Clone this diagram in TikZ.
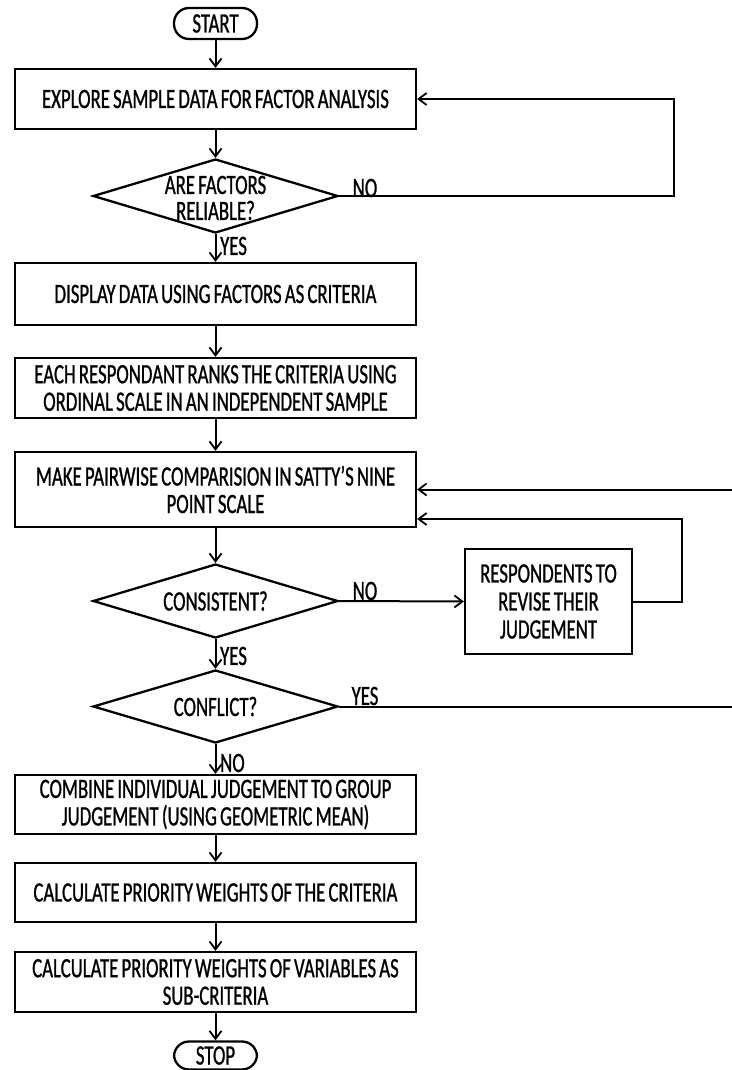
\documentclass[tikz,border=0pt]{standalone}
\usepackage{fontspec}
\setmainfont{Carlito}[FakeStretch=0.67,WordSpace=0.75,FakeBold=0.9]
\usetikzlibrary{shapes.geometric,arrows.meta}
\begin{document}
\begin{tikzpicture}[x=1pt,y=-1pt,
  every node/.style={font=\fontsize{28}{27.5}\selectfont, align=center, inner sep=0pt, text=black},
  proc/.style={draw, line width=2.3pt, minimum width=401pt},
  term/.style={draw, line width=2.3pt, rounded corners=15pt, minimum width=83pt, minimum height=31pt},
  decis/.style={draw, diamond, line width=2.3pt, minimum width=245pt, minimum height=74pt},
  lbl/.style={font=\fontsize{28}{27}\selectfont},
  arr/.style={line width=2pt, -{Straight Barb[length=8pt,width=12pt,line width=1.8pt]}},
  ln/.style={line width=2pt}]
\fill[white] (0,0) rectangle (731,1070);
\useasboundingbox (0,0) rectangle (731,1070);

\node[term] (start) at (215.5,23.5) {START};
\node[proc, minimum height=60pt] (b1) at (215.5,99) {EXPLORE SAMPLE DATA FOR FACTOR ANALYSIS};
\node[decis] (d1) at (215.5,196) {};
\node[font=\fontsize{28}{26}\selectfont] at (215.5,198) {ARE FACTORS\\RELIABLE?};
\node[proc, minimum height=62pt] (b2) at (215.5,294) {DISPLAY DATA USING FACTORS AS CRITERIA};
\node[proc, minimum height=60pt] (b3) at (215.5,388) {EACH RESPONDANT RANKS THE CRITERIA USING\\ORDINAL SCALE IN AN INDEPENDENT SAMPLE};
\node[proc, minimum height=75pt] (b4) at (215.5,489.5) {MAKE PAIRWISE COMPARISION IN SATTY’S NINE\\POINT SCALE};
\node[decis] (d2) at (215.5,601) {};
\node at (d2) {CONSISTENT?};
\node[draw, line width=2.3pt, minimum width=167pt, minimum height=105pt, font=\fontsize{28}{28}\selectfont] (b5) at (548.5,601.5) {RESPONDENTS TO\\REVISE THEIR\\JUDGEMENT};
\node[decis, minimum height=73pt] (d3) at (215.5,706.5) {};
\node at (d3) {CONFLICT?};
\node[proc, minimum height=59pt] (b6) at (215.5,804.5) {COMBINE INDIVIDUAL JUDGEMENT TO GROUP\\JUDGEMENT (USING GEOMETRIC MEAN)};
\node[proc, minimum height=59pt] (b7) at (215.5,892.5) {CALCULATE PRIORITY WEIGHTS OF THE CRITERIA};
\node[proc, minimum height=60pt] (b8) at (215.5,982) {CALCULATE PRIORITY WEIGHTS OF VARIABLES AS\\SUB-CRITERIA};
\node[term, minimum height=28pt] (stop) at (215.5,1055.5) {STOP};

\coordinate (r0) at (674,99);
\coordinate (r1) at (682,519);
\coordinate (r2) at (745,489.5);

\draw[arr] (start) -- (b1);
\draw[arr] (b1) -- (d1);
\draw[arr] (d1) -- (b2);
\draw[arr] (b2) -- (b3);
\draw[arr] (b3) -- (b4);
\draw[arr] (b4) -- (d2);
\draw[arr] (d2) -- (d3);
\draw[arr] (d3) -- (b6);
\draw[arr] (b6) -- (b7);
\draw[arr] (b7) -- (b8);
\draw[arr] (b8) -- (stop);
\draw[arr] (d1.east) -| (r0) -- (b1.east);
\draw[arr] (d2.east) -- (b5.west);
\draw[arr] (b5.east) -| (r1) -- (b4.east |- r1);
\draw[arr] (d3.east) -| (r2) -- (b4.east |- r2);

\node[lbl] (no1) at (365,188) {NO};
\node[lbl] (no2) at (365,591) {NO};
\node[lbl] (yes3) at (365,696) {YES};
\node[lbl, anchor=west] (yes1) at (220,246) {YES};
\node[lbl, anchor=west] (yes2) at (220,656) {YES};
\node[lbl, anchor=west] (no3) at (220,763) {NO};
\end{tikzpicture}
\end{document}
